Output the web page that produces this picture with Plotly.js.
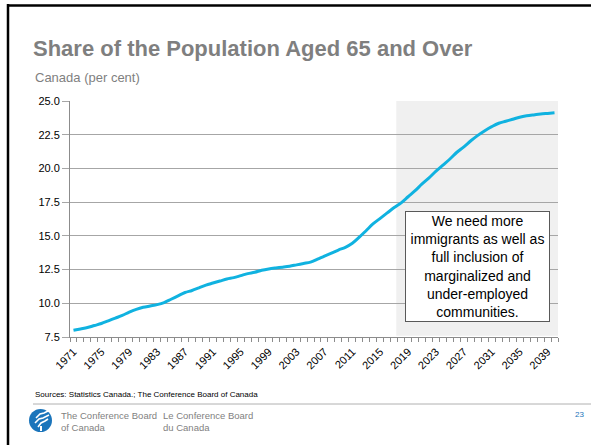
<!DOCTYPE html>
<html>
<head>
<meta charset="utf-8">
<script src="https://cdn.plot.ly/plotly-3.0.1.min.js"></script>
<style>
html,body{margin:0;padding:0;background:#fff;}
#chart{width:591px;height:445px;}
</style>
</head>
<body>
<div id="chart"></div>
<script>
// ---- data ----
const years = [1971,1972,1973,1974,1975,1976,1977,1978,1979,1980,
  1981,1982,1983,1984,1985,1986,1987,1988,1989,1990,
  1991,1992,1993,1994,1995,1996,1997,1998,1999,2000,
  2001,2002,2003,2004,2005,2006,2007,2008,2009,2010,
  2011,2012,2013,2014,2015,2016,2017,2018,2019,2020,
  2021,2022,2023,2024,2025,2026,2027,2028,2029,2030,
  2031,2032,2033,2034,2035,2036,2037,2038,2039,2040];
const share65 = [8.0,8.1,8.2,8.35,8.5,8.7,8.9,9.1,9.35,9.55,
  9.7,9.8,9.9,10.05,10.3,10.55,10.8,10.95,11.15,11.35,
  11.5,11.65,11.8,11.9,12.05,12.2,12.3,12.45,12.55,12.62,
  12.68,12.75,12.85,12.95,13.05,13.27,13.5,13.72,13.95,14.15,
  14.45,14.9,15.4,15.9,16.3,16.7,17.1,17.45,17.9,18.35,
  18.85,19.3,19.8,20.25,20.7,21.2,21.6,22.05,22.45,22.8,
  23.1,23.35,23.5,23.65,23.8,23.9,23.97,24.03,24.08,24.13];
const xTickYears = [1971,1975,1979,1983,1987,1991,1995,1999,2003,2007,2011,2015,2019,2023,2027,2031,2035,2039];
const yTicks = [7.5,10.0,12.5,15.0,17.5,20.0,22.5,25.0];
const projectionStart = 2017.3;
const projectionEnd = 2040.5;

const titleText = "Share of the Population Aged 65 and Over";
const subtitleText = "Canada (per cent)";
const noteText = "We need more<br>immigrants as well as<br>full inclusion of<br>marginalized and<br>under-employed<br>communities.";
const sourceText = "Sources: Statistics Canada.; The Conference Board of Canada";

// ---- layout helpers ----
const W = 591, H = 445;
const M = {l:70, r:33, t:101, b:108};
const PW = W - M.l - M.r, PH = H - M.t - M.b;
const px = x => (x - M.l) / PW;
const py = y => (H - M.b - y) / PH;
const FONT = "Liberation Sans, Arial, sans-serif";

const trace = {
  x: years, y: share65, type: 'scatter', mode: 'lines',
  line: {color: '#10b2e0', width: 3, shape: 'spline', smoothing: 1}, hoverinfo: 'skip', showlegend: false
};

const shapes = [
  // projection shading
  {type:'rect', xref:'x', yref:'y', x0: projectionStart, x1: projectionEnd, y0: 7.6, y1: 25,
   fillcolor:'#f0f0f0', line:{width:0}, layer:'below'},
  // slide frame
  {type:'line', xref:'paper', yref:'paper', x0: px(8), x1: px(8), y0: py(4), y1: py(446), line:{color:'#000', width:2.5}},
  {type:'line', xref:'paper', yref:'paper', x0: px(7), x1: px(592), y0: py(5.5), y1: py(5.5), line:{color:'#000', width:2.5}},
  // footer rule
  {type:'line', xref:'paper', yref:'paper', x0: px(33), x1: px(591), y0: py(404), y1: py(404), line:{color:'#b0b0b0', width:1}},
  // logo circle
  {type:'circle', xref:'paper', yref:'paper', x0: px(29), x1: px(52), y0: py(409), y1: py(432), fillcolor:'#1b75bb', line:{width:0}},
];
// logo flame (white strokes)
const logoPath = (pts) => 'M ' + pts.map(p => px(p[0]) + ',' + py(p[1])).join(' L ');
shapes.push({type:'path', xref:'paper', yref:'paper', path: logoPath([[36,418],[40,414],[44,413],[48,411]]), line:{color:'#fff', width:1.6}});
shapes.push({type:'path', xref:'paper', yref:'paper', path: logoPath([[35,423],[39,419],[43,418],[49,415]]), line:{color:'#fff', width:1.6}});
shapes.push({type:'path', xref:'paper', yref:'paper', path: logoPath([[38,427],[41,423],[45,421],[48,419]]), line:{color:'#fff', width:1.6}});
shapes.push({type:'path', xref:'paper', yref:'paper', path: logoPath([[41,431],[41,426]]), line:{color:'#fff', width:2}});

const annotations = [
  {xref:'paper', yref:'paper', x: px(33), y: py(77), xanchor:'left', yanchor:'middle', showarrow:false,
   text: subtitleText, font:{family: FONT, size: 13, color:'#7f7f7f'}},
  {xref:'x', yref:'y', x: 2028.9, y: 12.75, xanchor:'center', yanchor:'middle', showarrow:false,
   text: noteText, font:{family: FONT, size: 14, color:'#000'}, align:'center',
   bgcolor:'#ffffff', bordercolor:'#595959', borderwidth:1, borderpad:1, width:141},
  {xref:'paper', yref:'paper', x: px(33), y: py(394), xanchor:'left', yanchor:'middle', showarrow:false,
   text: sourceText, font:{family: FONT, size: 8, color:'#000'}},
  {xref:'paper', yref:'paper', x: px(59), y: py(421.5), xanchor:'left', yanchor:'middle', showarrow:false,
   text: 'The Conference Board<br>of Canada', align:'left', font:{family: FONT, size: 9.5, color:'#7f7f7f'}},
  {xref:'paper', yref:'paper', x: px(161), y: py(421.5), xanchor:'left', yanchor:'middle', showarrow:false,
   text: 'Le Conference Board<br>du Canada', align:'left', font:{family: FONT, size: 9.5, color:'#7f7f7f'}},
  {xref:'paper', yref:'paper', x: px(586), y: py(414), xanchor:'right', yanchor:'middle', showarrow:false,
   text: '23', font:{family: FONT, size: 8, color:'#1b75bb'}},
];

const layout = {
  width: W, height: H,
  margin: M,
  paper_bgcolor:'#fff', plot_bgcolor:'rgba(0,0,0,0)',
  font: {family: FONT},
  title: {text: '<b>' + titleText + '</b>', xref:'container', yref:'container',
          x: 33/W, xanchor:'left', y: 1 - 48/H, yanchor:'middle',
          font:{family: FONT, size: 22, color:'#7f7f7f'}},
  showlegend: false,
  xaxis: {
    range: [1970.5, 2040.5], tickmode:'array', tickvals: xTickYears, ticktext: xTickYears.map(String),
    tickangle: -45, ticks:'', showgrid:false, zeroline:false, ticklabelstandoff: 3,
    showline:true, linecolor:'#8c8c8c', linewidth:1,
    tickfont:{family: FONT, size: 11, color:'#000'},
    minor: {tickmode:'linear', tick0: 1970.5, dtick: 1, ticks:'outside', ticklen: 4, tickcolor:'#8c8c8c', tickwidth:1, showgrid:false}
  },
  yaxis: {
    range: [7.5, 25], tickmode:'array', tickvals: yTicks, tickformat:'.1f',
    ticks:'outside', ticklen: 7, tickcolor:'#a6a6a6',
    showgrid:true, gridcolor:'#a6a6a6', gridwidth:1, zeroline:false,
    showline:true, linecolor:'#8c8c8c', linewidth:1,
    tickfont:{family: FONT, size: 11, color:'#000'}
  },
  shapes: shapes,
  annotations: annotations
};

Plotly.newPlot('chart', [trace], layout, {displayModeBar:false, staticPlot:true});
</script>
</body>
</html>
